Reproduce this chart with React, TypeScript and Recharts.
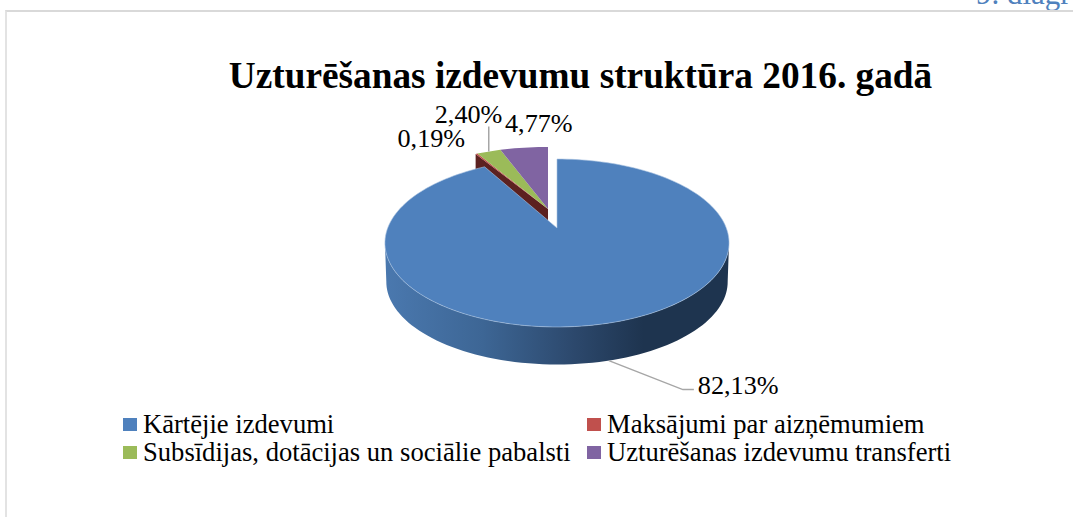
import React from "react";
import { PieChart, Pie, Legend } from "recharts";

const categories = [
  "Kārtējie izdevumi",
  "Maksājumi par aizņēmumiem",
  "Subsīdijas, dotācijas un sociālie pabalsti",
  "Uzturēšanas izdevumu transferti",
];
const shares = [82.13, 0.19, 2.4, 4.77];
const colors = ["#4f81bd", "#c0504d", "#9bbb59", "#8064a2"];
const data = categories.map((name, i) => ({ name, value: shares[i], fill: colors[i] }));

const TITLE = "Uzturēšanas izdevumu struktūra 2016. gadā";
const SERIF = "'Liberation Serif', serif";

// 3D tilt projection of the pie disc
const K = 0.1786;
const SX = 1.693;
const SY = 0.813;
const DEPTH = 39;
const EXPLODE = { x: -9, y: -19, yScale: 0.9 };
const main = categories[0];
const cutWallSlice = categories[1];

const rad = (d: number) => (d * Math.PI) / 180;
function project(cx: number, cy: number, r: number, phi: number, low = false, yScale = 1) {
  const s = Math.sin(rad(phi));
  const c = Math.cos(rad(phi));
  const d = 1 + K * c;
  const x = (SX * r * s) / d;
  const y = ((-SY * r * c) / d) * yScale;
  return low ? { x: cx + x * 0.992, y: cy + y * 0.985 + DEPTH } : { x: cx + x, y: cy + y };
}
function arcPts(cx: number, cy: number, r: number, a: number, b: number, low = false, yScale = 1) {
  const n = Math.max(2, Math.ceil(Math.abs(b - a) / 2));
  const out: { x: number; y: number }[] = [];
  for (let i = 0; i <= n; i++) out.push(project(cx, cy, r, a + ((b - a) * i) / n, low, yScale));
  return out;
}
const toPath = (pts: { x: number; y: number }[]) =>
  "M" + pts.map((p) => `${p.x.toFixed(2)},${p.y.toFixed(2)}`).join("L") + "Z";

function sliceShape(layer: "back" | "front") {
  return (props: any) => {
    const { cx, cy, outerRadius: r, startAngle, endAngle, fill, payload, name } = props;
    const label = payload?.name ?? name;
    const isMain = label === main;
    if ((layer === "front") !== isMain) return <g />;
    const a = 90 - startAngle;
    const b = 90 - endAngle;
    if (isMain) {
      const top = arcPts(cx, cy, r, 100, 260);
      const low = arcPts(cx, cy, r, 260, 100, true);
      return (
        <g>
          <defs>
            <linearGradient id="wallGrad" gradientUnits="userSpaceOnUse" x1={cx - 170} x2={cx + 172} y1="0" y2="0">
              <stop offset="0" stopColor="#4a78ae" />
              <stop offset="0.28" stopColor="#3d6695" />
              <stop offset="0.55" stopColor="#2c486c" />
              <stop offset="0.75" stopColor="#1e344f" />
              <stop offset="1" stopColor="#1e344f" />
            </linearGradient>
          </defs>
          <path d={toPath([...top, ...low])} fill="url(#wallGrad)" />
          <path
            d={toPath([{ x: cx, y: cy }, ...arcPts(cx, cy, r, a, b)])}
            fill={fill}
            stroke="#a9c3e0"
            strokeWidth={0.6}
            strokeLinejoin="round"
          />
        </g>
      );
    }
    const ox = cx + EXPLODE.x;
    const oy = cy + EXPLODE.y;
    const rim = project(ox, oy, r, a, false, EXPLODE.yScale);
    return (
      <g>
        {label === cutWallSlice && (
          <path
            d={toPath([
              { x: ox, y: oy },
              rim,
              { x: rim.x, y: rim.y + DEPTH },
              { x: ox, y: oy + DEPTH },
            ])}
            fill="#5c2120"
          />
        )}
        <path d={toPath([{ x: ox, y: oy }, ...arcPts(ox, oy, r, a, b, false, EXPLODE.yScale)])} fill={fill} />
      </g>
    );
  };
}

// label placement relative to each slice's rim point
const labelOffset = [
  { dx: 89, dy: 33, low: true, lifted: false, leader: [[74, 29], [85, 29]] },
  { dx: -79, dy: -7, low: false, lifted: true, leader: [] },
  { dx: -54, dy: -29, low: false, lifted: true, leader: [[0, -25]] },
  { dx: -19, dy: -16, low: false, lifted: true, leader: [] },
];

function renderLabel(props: any) {
  const { cx, cy, outerRadius: r, midAngle, index, value } = props;
  const o = labelOffset[index];
  const ox = o.lifted ? cx + EXPLODE.x : cx;
  const oy = o.lifted ? cy + EXPLODE.y : cy;
  const p = project(ox, oy, r, 90 - midAngle, o.low, o.lifted ? EXPLODE.yScale : 1);
  const text = Number(value).toFixed(2).replace(".", ",") + "%";
  const line = [[0, 0], ...o.leader].map(([dx, dy]) => `${p.x + dx},${p.y + dy}`).join(" ");
  return (
    <g>
      {o.leader.length > 0 && <polyline points={line} fill="none" stroke="#a6a6a6" strokeWidth={1.5} />}
      <text x={p.x + o.dx} y={p.y + o.dy} fontFamily={SERIF} fontSize={26.2} fill="#000" textAnchor="start">
        {text}
      </text>
    </g>
  );
}

const legendCols = [123, 587];
const legendRows = [410, 438];
function renderLegend(props: any) {
  const seen = new Set<string>();
  const items = (props.payload ?? [])
    .filter((it: any) => {
      if (seen.has(it.value)) return false;
      seen.add(it.value);
      return true;
    })
    .sort((p: any, q: any) => categories.indexOf(p.value) - categories.indexOf(q.value));
  return (
    <div style={{ position: "relative", width: 1073, height: 60 }}>
      {items.map((it: any, i: number) => (
        <div
          key={it.value}
          style={{
            position: "absolute",
            left: legendCols[i % 2],
            top: legendRows[i >> 1] - 410,
            display: "flex",
            alignItems: "center",
            fontFamily: SERIF,
            fontSize: 26.6,
            lineHeight: "28px",
            color: "#000",
            whiteSpace: "nowrap",
          }}
        >
          <span style={{ width: 14, height: 13, background: it.color, marginRight: 6, flex: "none" }} />
          {it.value}
        </div>
      ))}
    </div>
  );
}

export default function App() {
  return (
    <div style={{ position: "absolute", left: 0, top: 0, width: 1073, height: 517, overflow: "hidden", background: "#fff" }}>
      <div
        style={{
          position: "absolute",
          left: 976,
          top: 0,
          height: 10,
          width: 97,
          overflow: "hidden",
          color: "#4f81bd",
        }}
      >
        <div style={{ marginTop: -24.5, fontFamily: SERIF, fontSize: 31, lineHeight: "36px", whiteSpace: "nowrap" }}>
          9. diagr
        </div>
      </div>
      <div
        style={{
          position: "absolute",
          left: 5,
          top: 10,
          width: 1080,
          height: 520,
          borderTop: "2px solid #d9d9d9",
          borderLeft: "2px solid #e3e3e3",
        }}
      />
      <div
        style={{
          position: "absolute",
          left: 0,
          top: 53,
          width: 1161,
          textAlign: "center",
          fontFamily: SERIF,
          fontWeight: 700,
          fontSize: 37.3,
          lineHeight: "46px",
          color: "#000",
          whiteSpace: "nowrap",
        }}
      >
        {TITLE}
      </div>
      <div style={{ position: "absolute", left: 0, top: 0 }}>
        <PieChart width={1073} height={517} margin={{ top: 0, right: 0, bottom: 0, left: 0 }}>
          <Pie
            data={data}
            dataKey="value"
            nameKey="name"
            cx={557}
            cy={228}
            outerRadius={100}
            startAngle={90}
            endAngle={-270}
            isAnimationActive={false}
            shape={sliceShape("back")}
            stroke="none"
          />
          <Pie
            data={data}
            dataKey="value"
            nameKey="name"
            cx={557}
            cy={228}
            outerRadius={100}
            startAngle={90}
            endAngle={-270}
            isAnimationActive={false}
            shape={sliceShape("front")}
            legendType="none"
            stroke="none"
            label={renderLabel}
            labelLine={false}
          />
          <Legend content={renderLegend} wrapperStyle={{ left: 0, top: 410, width: 1073 }} />
        </PieChart>
      </div>
    </div>
  );
}
